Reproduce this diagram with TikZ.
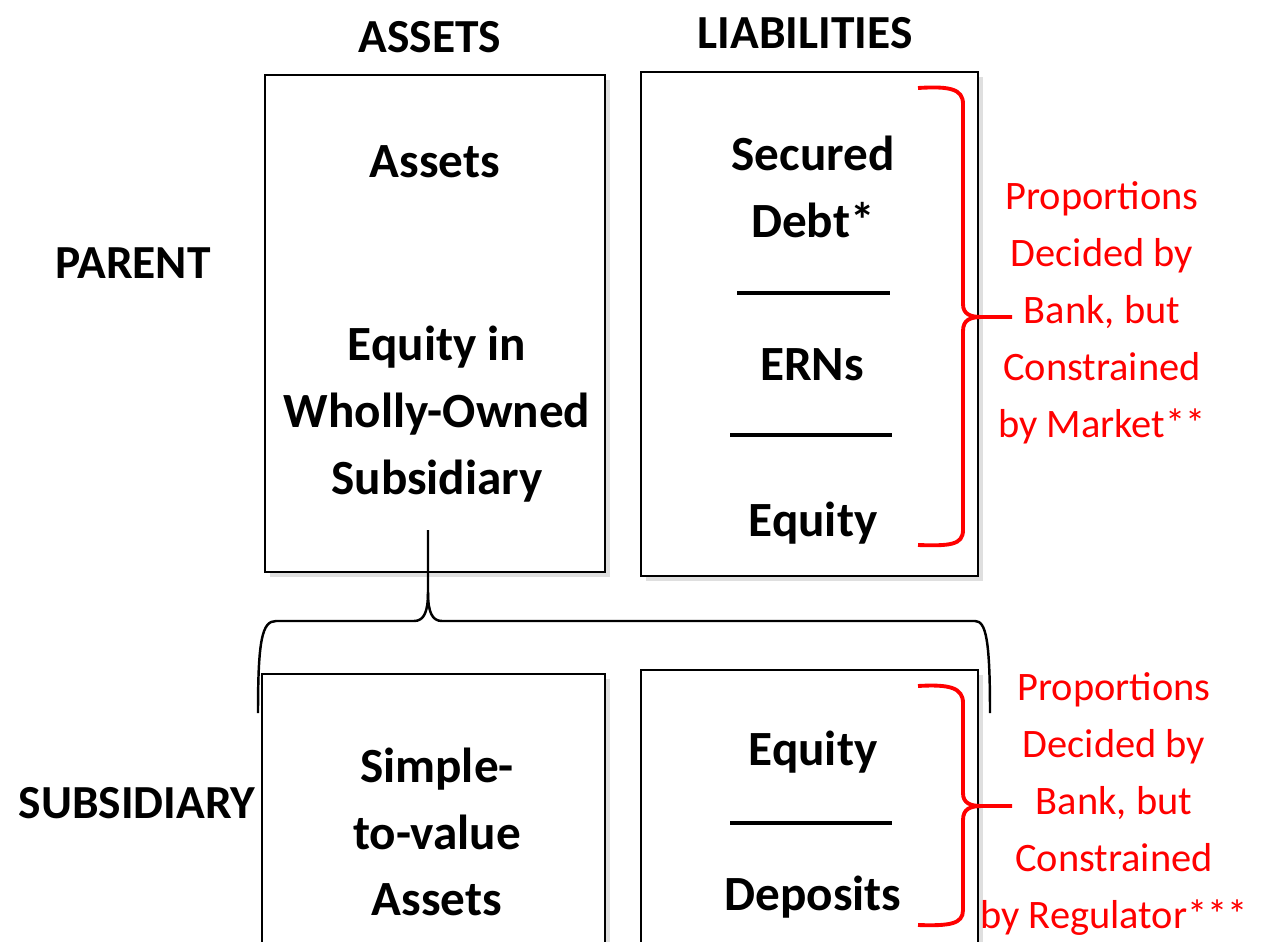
\documentclass[tikz,border=0pt]{standalone}
\usepackage{fontspec}
\setmainfont{Carlito}
\usetikzlibrary{shadows}
\begin{document}
\begin{tikzpicture}[x=0.02cm, y=-0.02cm,
    sheet/.style={draw=black, line width=1.6pt, fill=white,
        drop shadow={shadow xshift=3pt, shadow yshift=-3pt, opacity=0.25}},
    rule/.style={line width=2.2pt},
    head/.style={font=\bfseries\fontsize{27}{32}\selectfont},
    item/.style={font=\bfseries\fontsize{28}{38}\selectfont, align=center},
    note/.style={text=red, font=\fontsize{23}{32.5}\selectfont, align=center},
    redbrace/.style={draw=red, line width=2.2pt},
    blackbrace/.style={draw=black, line width=1.4pt}]

    % Fix the page size
    \useasboundingbox (0,0) rectangle (1270,941);
    \clip (0,0) rectangle (1270,941);

    % Corners of the four balance sheets
    \coordinate (PA1) at (265,75);  \coordinate (PA2) at (605,572);
    \coordinate (PL1) at (641,72);  \coordinate (PL2) at (978,576);
    \coordinate (SA1) at (262,674); \coordinate (SA2) at (605,950);
    \coordinate (SL1) at (641,670); \coordinate (SL2) at (978,950);

    % Draw the sheets
    \draw[sheet] (PA1) rectangle (PA2);
    \draw[sheet] (PL1) rectangle (PL2);
    \draw[sheet] (SA1) rectangle (SA2);
    \draw[sheet] (SL1) rectangle (SL2);

    % Column and row headings
    \node[head] (assetshead) at (430,37) {ASSETS};
    \node[head] (liabhead) at (805,33) {LIABILITIES};
    \node[head] (parent) at (133,263) {PARENT};
    \node[head] (subsid) at (137,803) {SUBSIDIARY};

    % Parent assets
    \node[item] (passets) at (435,162) {Assets};
    \node[item] (pequity) at (437,414) {Equity in\\Wholly-Owned\\Subsidiary};

    % Parent liabilities with dividing rules
    \node[item] (secured) at (813,187) {Secured\\Debt*};
    \node[item] (erns) at (812,365) {ERNs};
    \node[item] (plequity) at (813,523) {Equity};
    \coordinate (r1a) at (737,293); \coordinate (r1b) at (890,293);
    \coordinate (r2a) at (730,435); \coordinate (r2b) at (892,435);
    \draw[rule] (r1a) -- (r1b);
    \draw[rule] (r2a) -- (r2b);

    % Subsidiary assets
    \node[item] (sassets) at (437,832) {Simple-\\to-value\\Assets};

    % Subsidiary liabilities with dividing rule
    \node[item] (slequity) at (813,752) {Equity};
    \node[item] (deposits) at (813,897) {Deposits};
    \coordinate (r3a) at (730,823); \coordinate (r3b) at (892,823);
    \draw[rule] (r3a) -- (r3b);

    % Black brace from the equity stake down over the subsidiary
    \coordinate (stake) at (428,530);
    \coordinate (tip) at (428,592);
    \draw[blackbrace] (258,713) .. controls (258,640) and (262,621) .. (276,621)
        -- (414,621) .. controls (424,621) and (428,612) .. (tip) -- (stake);
    \draw[blackbrace] (tip) .. controls (428,612) and (432,621) .. (442,621)
        -- (975,621) .. controls (986,621) and (990,640) .. (990,713);

    % Red brace, parent
    \coordinate (ptip) at (1012,317);
    \draw[redbrace] (918,88) .. controls (950,86) and (963,89) .. (963,104)
        -- (963,304) .. controls (963,314) and (970,317) .. (982,317) -- (ptip);
    \draw[redbrace] (982,317) .. controls (970,317) and (963,320) .. (963,331)
        -- (963,530) .. controls (963,545) and (950,546) .. (918,545);
    \node[note] (pnote) at (1102,313) {Proportions\\Decided by\\Bank, but\\Constrained\\by Market**};

    % Red brace, subsidiary
    \coordinate (stip) at (1012,806);
    \draw[redbrace] (918,686) .. controls (950,684) and (963,688) .. (963,703)
        -- (963,793) .. controls (963,803) and (970,806) .. (982,806) -- (stip);
    \draw[redbrace] (982,806) .. controls (970,806) and (963,809) .. (963,820)
        -- (963,910) .. controls (963,924) and (950,926) .. (918,925);
    \node[note] (snote) at (1114,804) {Proportions\\Decided by\\Bank, but\\Constrained\\by Regulator***};

\end{tikzpicture}
\end{document}
